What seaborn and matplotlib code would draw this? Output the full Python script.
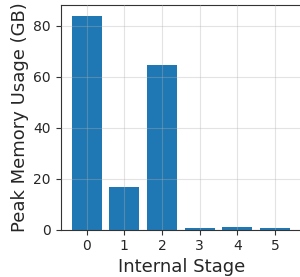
import pandas as pd
import matplotlib
matplotlib.use("Agg")
import matplotlib.pyplot as plt
import seaborn as sns

stages = ["0", "1", "2", "3", "4", "5"]
peak_mem = [83.8, 16.6, 64.5, 0.6, 1.0, 0.6]

df = pd.DataFrame({"Internal Stage": stages, "Peak Memory Usage (GB)": peak_mem})

sns.set_style("ticks")
plt.rcParams['font.family'] = ['DejaVu Sans']

fig = plt.figure(figsize=(3.0, 2.77), dpi=100)
# right edge of the frame falls just outside the canvas, like the reference crop
ax = fig.add_axes([0.202, 0.171, 0.808, 0.81])
sns.barplot(data=df, x="Internal Stage", y="Peak Memory Usage (GB)",
            color="#1f77b4", saturation=1, width=0.8, linewidth=0, ax=ax)

ax.set_xlim(-0.69, 5.744)
ax.set_ylim(0, 88)
ax.set_yticks([0, 20, 40, 60, 80])
ax.grid(True, color="#b0b0b0", alpha=0.35, linewidth=0.8)
ax.set_axisbelow(False)
ax.tick_params(labelsize=10, color="#333333", length=3.5)
ax.set_xlabel("Internal Stage", fontsize=13, labelpad=3)
ax.set_ylabel("Peak Memory Usage (GB)", fontsize=13, labelpad=3)
for s in ax.spines.values():
    s.set_color("#333333")
ax.spines["right"].set_visible(False)

fig.savefig("out.png", dpi=100)
